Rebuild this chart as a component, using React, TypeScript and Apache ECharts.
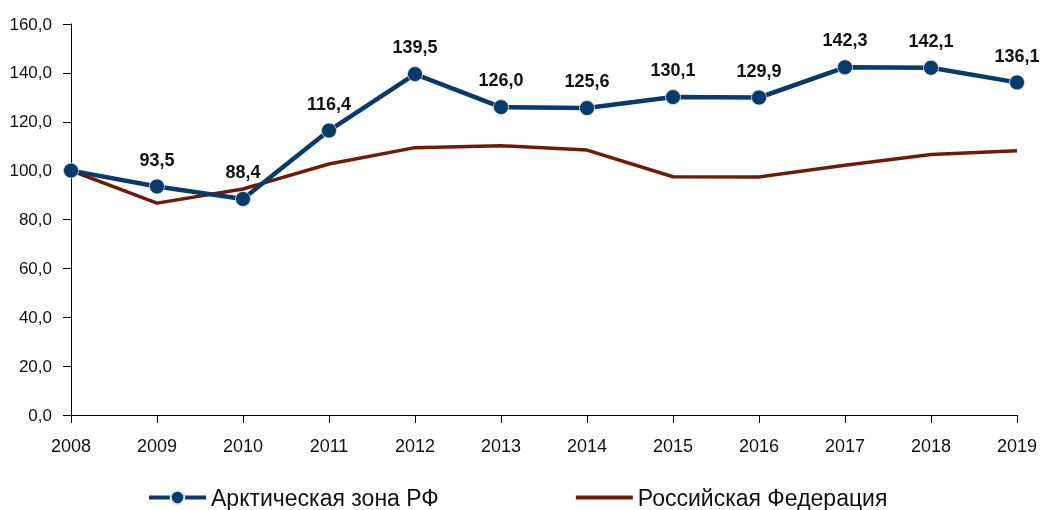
import React, { useEffect, useRef } from "react";
import * as echarts from "echarts";

const years = ["2008", "2009", "2010", "2011", "2012", "2013", "2014", "2015", "2016", "2017", "2018", "2019"];
const arctic = [100.0, 93.5, 88.4, 116.4, 139.5, 126.0, 125.6, 130.1, 129.9, 142.3, 142.1, 136.1];
const russia = [100.0, 86.7, 92.5, 102.7, 109.4, 110.2, 108.4, 97.5, 97.4, 102.2, 106.6, 108.1];
const seriesNames = ["Арктическая зона РФ", "Российская Федерация"];

const fmt = (v: number) => v.toFixed(1).replace(".", ",");

export default function App() {
  const ref = useRef<HTMLDivElement>(null);
  useEffect(() => {
    if (!ref.current) return;
    const chart = echarts.init(ref.current, undefined, { renderer: "svg" });
    const font = "'Liberation Sans', Arial, sans-serif";
    chart.setOption({
      animation: false,
      textStyle: { fontFamily: font },
      grid: { left: 71, right: 26, top: 24, bottom: 95, containLabel: false },
      legend: {
        top: 486,
        left: 147,
        padding: 0,
        itemWidth: 57,
        itemHeight: 17,
        itemGap: 135,
        textStyle: { fontSize: 23, color: "#111", fontFamily: font, lineHeight: 23 },
        data: [
          { name: seriesNames[0], lineStyle: { width: 4 } },
          {
            name: seriesNames[1],
            lineStyle: { width: 4 },
            itemStyle: { color: "rgba(0,0,0,0)", borderWidth: 0, opacity: 0 },
          },
        ],
      },
      xAxis: {
        type: "category",
        data: years,
        boundaryGap: false,
        axisLine: { lineStyle: { color: "#000", width: 1 } },
        axisTick: { show: true, inside: false, length: 8, lineStyle: { color: "#000" } },
        axisLabel: { fontSize: 18, color: "#111", margin: 22, fontFamily: font },
        splitLine: { show: false },
      },
      yAxis: {
        type: "value",
        min: 0,
        max: 160,
        interval: 20,
        axisLine: { show: true, lineStyle: { color: "#000", width: 1 } },
        axisTick: { show: true, length: 8, lineStyle: { color: "#000" } },
        axisLabel: { fontSize: 17, color: "#111", margin: 19, formatter: (v: number) => fmt(v), fontFamily: font },
        splitLine: { show: false },
      },
      series: [
        {
          name: seriesNames[1],
          type: "line",
          data: russia,
          symbol: "none",
          lineStyle: { color: "#6E1C06", width: 3.5 },
          itemStyle: { color: "#6E1C06" },
          z: 2,
        },
        {
          name: seriesNames[0],
          type: "line",
          data: arctic.map((v, i) => (i === 0 ? { value: v, label: { show: false } } : v)),
          symbol: "circle",
          symbolSize: 15,
          lineStyle: { color: "#083A6B", width: 4.5 },
          itemStyle: { color: "#083A6B", borderColor: "#dfe6ee", borderWidth: 0.8 },
          label: {
            show: true,
            position: "top",
            distance: 10,
            fontSize: 18,
            fontWeight: "bold",
            color: "#111",
            fontFamily: font,
            formatter: (p: any) => fmt(p.value),
          },
          z: 3,
        },
      ],
    });
    return () => chart.dispose();
  }, []);
  return <div ref={ref} style={{ position: "fixed", left: 0, top: 0, width: 1043, height: 510 }} />;
}
